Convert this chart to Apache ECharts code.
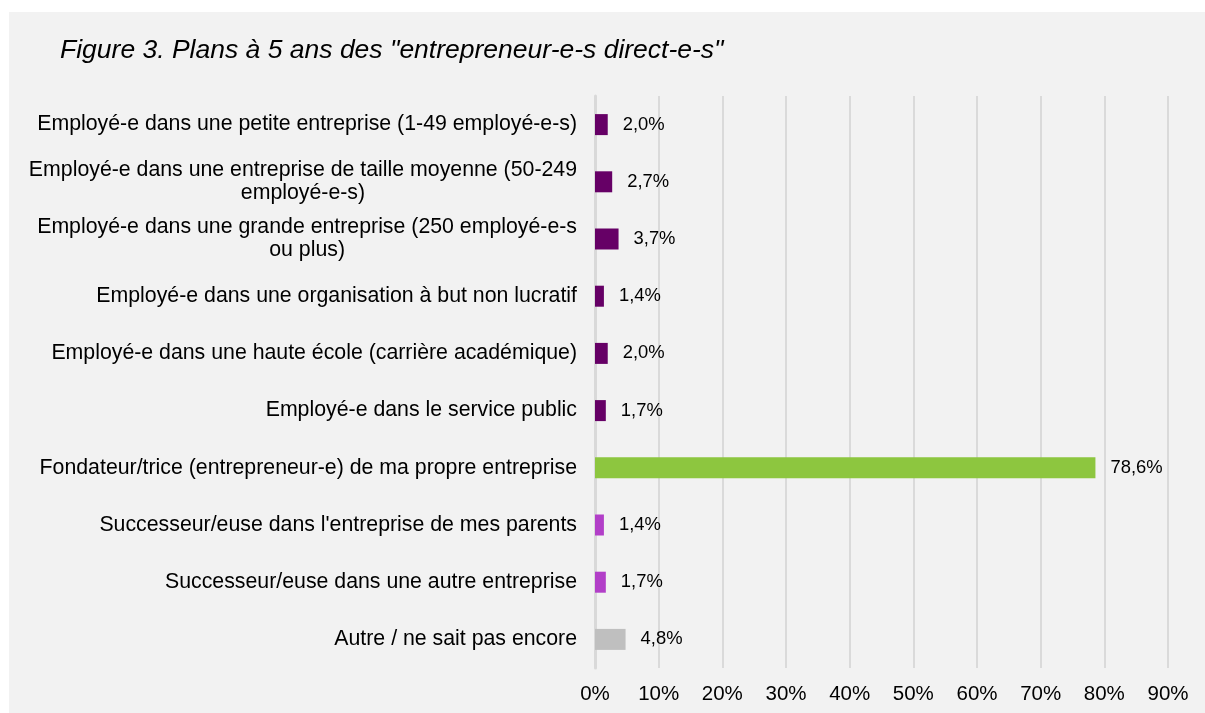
<!DOCTYPE html>
<html>
<head>
<meta charset="utf-8">
<script src="https://cdn.jsdelivr.net/npm/echarts@6/dist/echarts.min.js"></script>
<style>
  html, body { margin: 0; padding: 0; background: #ffffff; }
  #chart { position: absolute; left: 9px; top: 12px; width: 1196px; height: 701px; background: #f2f2f2; }
</style>
</head>
<body>
<div id="chart"></div>
<script>
// catégories (haut vers bas)
const categories = [
  'Employé-e dans une petite entreprise (1-49 employé-e-s)',
  'Employé-e dans une entreprise de taille moyenne (50-249\nemployé-e-s)',
  'Employé-e dans une grande entreprise (250 employé-e-s\nou plus)',
  'Employé-e dans une organisation à but non lucratif',
  'Employé-e dans une haute école (carrière académique)',
  'Employé-e dans le service public',
  'Fondateur/trice (entrepreneur-e) de ma propre entreprise',
  "Successeur/euse dans l'entreprise de mes parents",
  'Successeur/euse dans une autre entreprise',
  'Autre / ne sait pas encore'
]

const values = [2.0, 2.7, 3.7, 1.4, 2.0, 1.7, 78.6, 1.4, 1.7, 4.8]

const barColors = ['#660066', '#660066', '#660066', '#660066', '#660066', '#660066',
  '#8dc63f', '#b23fc8', '#b23fc8', '#bfbfbf']

const xTicks = { min: 0, max: 90, interval: 10 }

const font = '"Liberation Sans", Arial, sans-serif'
const fmtPct = (v) => v.toFixed(1).replace('.', ',') + '%'

const myChart = echarts.init(document.getElementById('chart'))

const option = {
  backgroundColor: '#f2f2f2',
  animation: false,
  title: {
    text: 'Figure 3. Plans à 5 ans des "entrepreneur-e-s direct-e-s"',
    left: 46,
    top: 20,
    textStyle: { fontFamily: font, fontSize: 26.5, fontStyle: 'italic', fontWeight: 'normal', color: '#000' }
  },
  grid: { left: 586, right: 37, top: 84, bottom: 45 },
  xAxis: {
    type: 'value',
    min: xTicks.min,
    max: xTicks.max,
    interval: xTicks.interval,
    axisLine: { show: false },
    axisTick: { show: false },
    axisLabel: {
      formatter: (v) => v + '%',
      fontFamily: font,
      fontSize: 20.5,
      color: '#000',
      margin: 16
    },
    splitLine: { show: true, lineStyle: { color: '#dadada', width: 2 } }
  },
  yAxis: {
    type: 'category',
    data: categories,
    inverse: true,
    axisTick: { show: false },
    axisLine: { show: true, lineStyle: { color: '#d9d9d9', width: 3 } },
    axisLabel: {
      margin: 18,
      formatter: (v) => v.split('\n').map((l) => `{c|${l}}`).join('\n'),
      rich: {
        c: { align: 'center', fontFamily: font, fontSize: 21.3, color: '#000', lineHeight: 23 }
      }
    }
  },
  series: [
    {
      type: 'bar',
      barWidth: 21,
      data: values.map((v, i) => ({ value: v, itemStyle: { color: barColors[i] } })),
      label: {
        show: true,
        position: 'right',
        distance: 15,
        formatter: (p) => fmtPct(p.value),
        fontFamily: font,
        fontSize: 18.4,
        color: '#000'
      }
    }
  ]
}

myChart.setOption(option)
</script>
</body>
</html>
